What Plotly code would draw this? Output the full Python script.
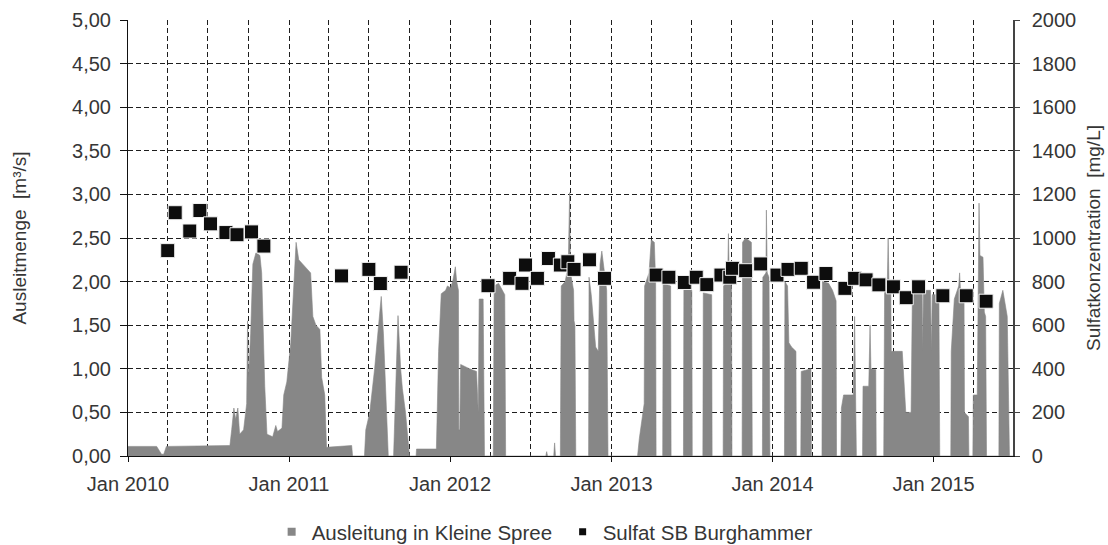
import plotly.graph_objects as go

# Discharge into the Kleine Spree (m³/s), breakpoints of the daily series
flow_dates = [
    "2010-01-01", "2010-03-07", "2010-03-18", "2010-03-23", "2010-03-29",
    "2010-08-20", "2010-08-24", "2010-08-29", "2010-09-02", "2010-09-07",
    "2010-09-11", "2010-09-20", "2010-09-27", "2010-09-29", "2010-10-01",
    "2010-10-06", "2010-10-11", "2010-10-18", "2010-10-27", "2010-10-31",
    "2010-11-07", "2010-11-12", "2010-11-25", "2010-12-02", "2010-12-06",
    "2010-12-16", "2010-12-20", "2010-12-27", "2011-01-05", "2011-01-12",
    "2011-01-17", "2011-01-23", "2011-02-01", "2011-02-10", "2011-02-19",
    "2011-02-24", "2011-03-03", "2011-03-12", "2011-03-16", "2011-03-23",
    "2011-03-27", "2011-05-23", "2011-05-25", "2011-06-21", "2011-06-24",
    "2011-07-03", "2011-07-14", "2011-07-23", "2011-07-29", "2011-08-03",
    "2011-08-10", "2011-08-14", "2011-08-26", "2011-08-31", "2011-09-05",
    "2011-09-11", "2011-09-15", "2011-09-22", "2011-09-29", "2011-10-01",
    "2011-10-16", "2011-10-17", "2011-12-01", "2011-12-06", "2011-12-12",
    "2011-12-22", "2011-12-26", "2012-01-02", "2012-01-07", "2012-01-13",
    "2012-01-16", "2012-01-20", "2012-01-21", "2012-01-23", "2012-01-25",
    "2012-02-14", "2012-03-01", "2012-03-05", "2012-03-07", "2012-03-16",
    "2012-03-19", "2012-04-08", "2012-04-10", "2012-04-20", "2012-05-04",
    "2012-05-06", "2012-08-05", "2012-08-07", "2012-08-09", "2012-08-23",
    "2012-08-25", "2012-08-27", "2012-09-07", "2012-09-09", "2012-09-18",
    "2012-09-25", "2012-09-28", "2012-09-30", "2012-10-07", "2012-10-08",
    "2012-10-10", "2012-10-12", "2012-11-10", "2012-11-11", "2012-11-16",
    "2012-11-21", "2012-11-26", "2012-12-02", "2012-12-06", "2012-12-10",
    "2012-12-16", "2012-12-21", "2012-12-24", "2013-03-01", "2013-03-05",
    "2013-03-12", "2013-03-16", "2013-03-17", "2013-03-27", "2013-04-01",
    "2013-04-08", "2013-04-11", "2013-04-12", "2013-04-27", "2013-04-28",
    "2013-05-15", "2013-05-16", "2013-06-13", "2013-06-14", "2013-07-02",
    "2013-07-03", "2013-07-27", "2013-07-28", "2013-08-16", "2013-08-17",
    "2013-09-11", "2013-09-12", "2013-09-21", "2013-09-23", "2013-09-25",
    "2013-09-30", "2013-10-01", "2013-10-24", "2013-10-25", "2013-11-01",
    "2013-11-14", "2013-11-16", "2013-12-09", "2013-12-10", "2013-12-17",
    "2013-12-18", "2013-12-20", "2013-12-24", "2013-12-26", "2014-01-28",
    "2014-01-29", "2014-02-04", "2014-02-07", "2014-02-13", "2014-02-23",
    "2014-02-24", "2014-03-06", "2014-03-07", "2014-03-29", "2014-03-30",
    "2014-04-23", "2014-04-24", "2014-05-08", "2014-05-17", "2014-05-25",
    "2014-05-26", "2014-06-05", "2014-06-06", "2014-06-11", "2014-07-03",
    "2014-07-06", "2014-07-08", "2014-07-10", "2014-07-24", "2014-07-25",
    "2014-08-07", "2014-08-10", "2014-08-12", "2014-08-23", "2014-08-24",
    "2014-09-10", "2014-09-12", "2014-09-18", "2014-09-20", "2014-09-22",
    "2014-09-26", "2014-09-27", "2014-10-22", "2014-10-25", "2014-10-30",
    "2014-11-11", "2014-11-14", "2014-12-06", "2014-12-07", "2014-12-09",
    "2014-12-25", "2014-12-27", "2014-12-29", "2015-01-13", "2015-01-15",
    "2015-02-09", "2015-02-10", "2015-02-17", "2015-02-27", "2015-03-01",
    "2015-03-03", "2015-03-11", "2015-03-12", "2015-03-21", "2015-03-22",
    "2015-03-31", "2015-04-01", "2015-04-10", "2015-04-12", "2015-04-14",
    "2015-04-16", "2015-04-23", "2015-04-26", "2015-04-29", "2015-05-01",
    "2015-05-29", "2015-05-30", "2015-06-07", "2015-06-17", "2015-06-22",
    "2015-06-30",
]
flow_values = [
    0.11, 0.11, 0.02, 0.02, 0.11,
    0.12, 0.30, 0.55, 0.42, 0.55,
    0.25, 0.30, 0.60, 1.55, 0.90,
    1.40, 2.20, 2.33, 2.30, 2.10,
    0.80, 0.25, 0.22, 0.35, 0.28,
    0.32, 0.70, 0.85, 1.30, 2.00,
    2.45, 2.25, 2.20, 2.15, 2.10,
    1.60, 1.50, 1.45, 0.90, 0.70,
    0.10, 0.12, 0.00, 0.00, 0.30,
    0.50, 1.00, 1.50, 1.83, 1.40,
    0.60, 0.00, 0.00, 0.80, 1.61,
    1.00, 0.77, 0.50, 0.05, 0.00,
    0.00, 0.08, 0.08, 1.20, 1.86,
    1.90, 1.95, 1.93, 2.00, 2.17,
    2.00, 1.90, 0.30, 0.30, 1.05,
    1.00, 0.97, 0.50, 1.80, 1.80,
    0.00, 0.00, 1.95, 1.98, 1.85,
    0.00, 0.00, 0.05, 0.00, 0.00,
    0.15, 0.00, 0.00, 1.95, 2.00,
    2.20, 3.02, 2.10, 1.90, 1.55,
    1.50, 0.00, 0.00, 2.05, 1.85,
    1.50, 1.25, 1.20, 2.20, 2.35,
    2.10, 1.90, 0.00, 0.00, 0.20,
    0.45, 0.60, 1.95, 2.10, 2.48,
    2.45, 2.00, 0.00, 0.00, 1.98,
    1.95, 0.00, 0.00, 1.94, 1.90,
    0.00, 0.00, 1.87, 1.85, 0.00,
    0.00, 1.95, 2.00, 2.55, 2.00,
    1.95, 0.00, 0.00, 2.45, 2.50,
    2.45, 0.00, 0.00, 2.05, 2.10,
    2.82, 2.10, 2.05, 0.00, 0.00,
    2.00, 1.95, 1.30, 1.25, 1.20,
    0.00, 0.00, 0.97, 1.00, 0.00,
    0.00, 2.00, 1.98, 1.90, 1.78,
    0.00, 0.00, 0.55, 0.70, 0.70,
    1.60, 0.70, 0.00, 0.00, 0.80,
    0.80, 1.50, 1.00, 0.99, 0.00,
    0.00, 1.95, 1.95, 2.50, 1.95,
    1.90, 1.20, 1.20, 0.90, 0.50,
    0.50, 1.90, 1.95, 1.20, 1.90,
    1.90, 1.20, 1.85, 1.85, 0.00,
    0.00, 1.20, 1.80, 1.95, 2.10,
    1.90, 1.85, 0.50, 0.45, 0.00,
    0.00, 0.70, 0.70, 2.28, 2.90,
    2.30, 2.28, 1.65, 1.60, 0.00,
    0.00, 1.75, 1.90, 1.60, 0.00,
    0.00,
]

# Sulfate concentration at SB Burghammer (mg/L)
sulfate_dates = [
    "2010-04-01", "2010-04-18", "2010-05-21", "2010-06-13", "2010-07-07",
    "2010-08-11", "2010-09-05", "2010-10-08", "2010-11-05",
    "2011-04-30", "2011-07-01", "2011-07-27", "2011-09-12",
    "2012-03-27", "2012-05-15", "2012-06-12", "2012-06-20", "2012-07-17",
    "2012-08-11", "2012-09-07", "2012-09-24", "2012-10-08", "2012-11-12",
    "2012-12-16",
    "2013-04-12", "2013-05-11", "2013-06-15", "2013-07-12", "2013-08-05",
    "2013-09-06", "2013-09-26", "2013-10-02", "2013-11-01", "2013-12-05",
    "2014-01-11", "2014-02-05", "2014-03-07", "2014-04-04", "2014-05-02",
    "2014-06-14", "2014-07-06", "2014-08-01", "2014-08-30", "2014-10-02",
    "2014-10-31", "2014-11-28",
    "2015-01-22", "2015-03-16", "2015-04-30",
]
sulfate_values = [
    942, 1116, 1032, 1126, 1065,
    1025, 1015, 1028, 963,
    826, 856, 791, 843,
    781, 815, 792, 876, 815,
    906, 876, 891, 856, 900,
    815,
    830, 820, 796, 820, 786,
    830, 820, 861, 850, 881,
    830, 856, 861, 797, 837,
    769, 815, 808, 785, 776,
    726, 776,
    735, 735, 710,
]

left_ticks = [0, 0.5, 1, 1.5, 2, 2.5, 3, 3.5, 4, 4.5, 5]
right_ticks = [0, 200, 400, 600, 800, 1000, 1200, 1400, 1600, 1800, 2000]

FLOW_GRAY = "#878787"
TEXT = "#363636"
GRID = dict(gridcolor="#1e1e1e", gridwidth=1, griddash="5px,3px")

fig = go.Figure()

fig.add_trace(go.Scatter(
    x=flow_dates, y=flow_values, mode="lines", fill="tozeroy",
    fillcolor=FLOW_GRAY, line=dict(color=FLOW_GRAY, width=0.6),
    name="Ausleitung in Kleine Spree", showlegend=False, yaxis="y",
))
fig.add_trace(go.Scatter(
    x=sulfate_dates, y=sulfate_values, mode="markers",
    marker=dict(symbol="square", size=14, color="#0d0d0d",
                line=dict(color="#f2f2f2", width=1)),
    name="Sulfat SB Burghammer", showlegend=False, yaxis="y2",
))

# legend entries with small square symbols
fig.add_trace(go.Scatter(
    x=[None], y=[None], mode="markers", name="Ausleitung in Kleine Spree",
    marker=dict(symbol="square", size=8, color=FLOW_GRAY),
))
fig.add_trace(go.Scatter(
    x=[None], y=[None], mode="markers", name="Sulfat SB Burghammer",
    marker=dict(symbol="square", size=7, color="#0d0d0d"),
))

fig.update_layout(
    width=1108, height=545,
    margin=dict(l=128, r=95, t=20, b=89, autoexpand=False),
    paper_bgcolor="white", plot_bgcolor="white",
    font=dict(family="Liberation Sans, Arial, sans-serif", size=20, color=TEXT),
    separators=",.",
    legend=dict(
        orientation="h", x=0.1623, xanchor="left",
        y=-0.174, yanchor="middle",
        entrywidth=246, entrywidthmode="pixels",
        font=dict(size=20.5, color=TEXT), bgcolor="rgba(0,0,0,0)",
        itemsizing="trace",
    ),
    xaxis=dict(
        type="date", range=["2010-01-01", "2015-06-30"],
        dtick="M12", tick0="2010-01-01", tickformat="%b %Y",
        ticks="outside", ticklen=5, tickcolor="#111", ticklabelstandoff=5,
        showline=True, linecolor="#111", linewidth=1,
        showgrid=True, **GRID,
        minor=dict(dtick="M3", tick0="2010-01-01", showgrid=True, ticks="", **GRID),
        zeroline=False, automargin=False,
    ),
    yaxis=dict(
        range=[0, 5], tickvals=left_ticks, tickformat=".2f",
        ticks="outside", ticklen=7, tickcolor="#111", ticklabelstandoff=5,
        showline=True, linecolor="#111", linewidth=1,
        showgrid=True, **GRID, zeroline=False, automargin=False,
        title=dict(text="Ausleitmenge \u00a0[m³/s]", standoff=40, font=dict(size=19)),
    ),
    yaxis2=dict(
        range=[0, 2000], tickvals=right_ticks, overlaying="y", side="right",
        ticks="outside", ticklen=5, tickcolor="#444", ticklabelstandoff=8,
        showline=True, linecolor="#444", linewidth=1.5,
        showgrid=False, zeroline=False, automargin=False,
        title=dict(text="Sulfatkonzentration \u00a0[mg/L]", standoff=11, font=dict(size=19)),
    ),
)

fig.write_html("out.html")
